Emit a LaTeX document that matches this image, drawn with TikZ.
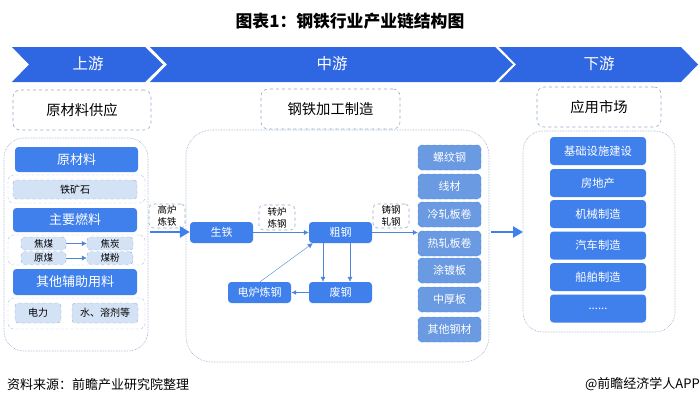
\documentclass[tikz,border=0pt]{standalone}
\usepackage{fontspec}
\usetikzlibrary{arrows.meta}
\setmainfont{Noto Sans CJK SC}
\definecolor{bannerblue}{HTML}{2F66E2}
\definecolor{boxblue}{HTML}{3F80EC}
\definecolor{prodblue}{HTML}{6A9AE2}
\definecolor{lightblue}{HTML}{D4E2F6}
\definecolor{dashblue}{HTML}{8FA8C8}
\definecolor{arrowblue}{HTML}{4F85D8}

\begin{document}
\begin{tikzpicture}[
    x=1pt, y=-1pt,
    node distance=2mm,
    banner/.style={fill=bannerblue, draw=none},
    stagelabel/.style={text=white, font=\fontsize{15.5}{15.5}\selectfont},
    headtag/.style={rectangle, rounded corners=2.5mm, dashed, draw=dashblue, semithick, fill=white, font=\fontsize{14.3}{14.3}\selectfont, inner sep=0pt},
    panel/.style={rectangle, densely dotted, draw=dashblue, semithick, inner sep=0pt},
    group/.style={rectangle, rounded corners=2mm, densely dashed, draw=dashblue!70, inner sep=0pt},
    bluebox/.style={rectangle, rounded corners=1.2mm, fill=boxblue, text=white, inner sep=0pt},
    lightbox/.style={rectangle, rounded corners=1.2mm, dashed, draw=dashblue, fill=lightblue, font=\fontsize{10}{10}\selectfont, inner sep=0pt},
    prodbox/.style={rectangle, rounded corners=1.2mm, dashed, draw=boxblue, fill=prodblue, text=white, font=\fontsize{11}{11}\selectfont, inner sep=0pt},
    steptag/.style={rectangle, rounded corners=1.5mm, dashed, draw=dashblue, semithick, fill=white, align=center, font=\fontsize{9.5}{12}\selectfont, inner sep=0pt},
    thinarrow/.style={draw=arrowblue, -{Latex[length=5pt,width=5pt]}},
    fatarrow/.style={draw=boxblue, line width=2.4pt, -{Triangle[length=10pt,width=11pt]}}
    ]
    \useasboundingbox (0,0) rectangle (700,405);

    \node (title) at (350,21) {\fontsize{16.8}{16.8}\selectfont\bfseries 图表1：钢铁行业产业链结构图};

    % banner
    \fill[banner] (12,47) -- (145,47) -- (163,64.5) -- (145,82) -- (12,82) -- (29,64.5) -- cycle;
    \fill[banner] (150,47) -- (495,47) -- (513,64.5) -- (495,82) -- (150,82) -- (167,64.5) -- cycle;
    \fill[banner] (499,47) -- (681,47) -- (698,64.5) -- (681,82) -- (499,82) -- (516,64.5) -- cycle;
    \node (up) [stagelabel] at (88,64) {上游};
    \node (mid) [stagelabel] at (332,64) {中游};
    \node (down) [stagelabel] at (599,64) {下游};

    \node (uptag) [headtag, minimum width=138pt, minimum height=40pt] at (82,110) {原材料供应};
    \node (midtag) [headtag, minimum width=139pt, minimum height=40pt] at (330.5,109) {钢铁加工制造};
    \node (downtag) [headtag, minimum width=124pt, minimum height=40pt] at (599,107) {应用市场};

    % panels
    \node (uppanel) [panel, rounded corners=7mm, minimum width=144pt, minimum height=213pt] at (76,244.5) {};
    \node (midpanel) [panel, rounded corners=9mm, minimum width=303pt, minimum height=232pt] at (337.5,246) {};
    \node (downpanel) [panel, rounded corners=7mm, minimum width=152pt, minimum height=201pt] at (599,231.5) {};

    % upstream
    \node (rawmat) [bluebox, minimum width=123pt, minimum height=25pt, font=\fontsize{13}{13}\selectfont] at (76.5,159.5) {原材料};
    \node (oregroup) [group, minimum width=137pt, minimum height=28pt] at (76.5,189) {};
    \node (ore) [lightbox, minimum width=124pt, minimum height=19pt] at (75,189.5) {铁矿石};
    \node (fuel) [bluebox, minimum width=124pt, minimum height=24pt, font=\fontsize{13}{13}\selectfont] at (75,220) {主要燃料};
    \node (coalgroup) [group, minimum width=137pt, minimum height=30pt] at (76.5,250) {};
    \node (cokecoal) [lightbox, minimum width=45pt, minimum height=13pt, font=\fontsize{9.5}{9.5}\selectfont] at (43.5,243.5) {焦煤};
    \node (rawcoal) [lightbox, minimum width=45pt, minimum height=12.5pt, font=\fontsize{9.5}{9.5}\selectfont] at (43.5,258) {原煤};
    \node (coke) [lightbox, minimum width=46pt, minimum height=13pt, font=\fontsize{9.5}{9.5}\selectfont] at (110,243.5) {焦炭};
    \node (powder) [lightbox, minimum width=46pt, minimum height=12.5pt, font=\fontsize{9.5}{9.5}\selectfont] at (110,258) {煤粉};
    \draw[thinarrow] (cokecoal) -- (coke);
    \draw[thinarrow] (rawcoal) -- (powder);
    \node (aux) [bluebox, minimum width=124pt, minimum height=26pt, font=\fontsize{13}{13}\selectfont] at (75,282) {其他辅助用料};
    \node (auxgroup) [group, minimum width=137pt, minimum height=31pt] at (76.5,313.5) {};
    \node (power) [lightbox, minimum width=46pt, minimum height=20pt] at (38,313) {电力};
    \node (water) [lightbox, minimum width=66pt, minimum height=20pt] at (105,313) {水、溶剂等};

    % midstream
    \node (pigiron) [bluebox, minimum width=63pt, minimum height=21pt, font=\fontsize{11}{11}\selectfont] at (221.5,232.5) {生铁};
    \node (crude) [bluebox, minimum width=63pt, minimum height=21pt, font=\fontsize{11}{11}\selectfont] at (340.5,232.5) {粗钢};
    \node (scrap) [bluebox, minimum width=63pt, minimum height=21pt, font=\fontsize{11}{11}\selectfont] at (340.5,292.5) {废钢};
    \node (eaf) [bluebox, minimum width=63pt, minimum height=21pt, font=\fontsize{11}{11}\selectfont] at (259.5,292.5) {电炉炼钢};

    \node (rebar) [prodbox, minimum width=63pt, minimum height=25pt] at (449.5,157.5) {螺纹钢};
    \node (wire) [prodbox, minimum width=63pt, minimum height=25pt] at (449.5,186.5) {线材};
    \node (cold) [prodbox, minimum width=63pt, minimum height=25pt] at (449.5,214.5) {冷轧板卷};
    \node (hot) [prodbox, minimum width=63pt, minimum height=25pt] at (449.5,243.5) {热轧板卷};
    \node (coated) [prodbox, minimum width=63pt, minimum height=25pt] at (449.5,270.5) {涂镀板};
    \node (plate) [prodbox, minimum width=63pt, minimum height=25pt] at (449.5,299.5) {中厚板};
    \node (other) [prodbox, minimum width=63pt, minimum height=25pt] at (449.5,329.5) {其他钢材};

    \draw[thinarrow] (pigiron) -- (crude);
    \draw[thinarrow] (crude.east) -- (crude.east -| hot.west);
    \draw[thinarrow] ([xshift=-17.5pt]crude.south) -- ([xshift=-17.5pt]scrap.north);
    \draw[thinarrow] ([xshift=9.5pt]crude.south) -- ([xshift=9.5pt]scrap.north);
    \draw[thinarrow, line width=1pt] (scrap) -- (eaf);
    \draw[thinarrow] ([xshift=0.5pt]eaf.north) -- ([xshift=4pt]crude.south west);

    \node (blast) [steptag, minimum width=36pt, minimum height=24pt] at (167,216) {高炉\\炼铁};
    \node (converter) [steptag, minimum width=36pt, minimum height=25pt] at (277,217.5) {转炉\\炼钢};
    \node (casting) [steptag, minimum width=36pt, minimum height=24pt] at (391,216) {铸钢\\轧钢};

    % big arrows
    \coordinate (upout) at (150,232);
    \coordinate (midout) at (491,232);
    \coordinate (downin) at (523,232);
    \draw[fatarrow] (upout) -- (pigiron.west |- upout);
    \draw[fatarrow] (midout) -- (downin);

    % downstream
    \node (infra) [bluebox, minimum width=96pt, minimum height=28pt, font=\fontsize{11.3}{11.3}\selectfont] at (598,151) {基础设施建设};
    \node (estate) [bluebox, minimum width=96pt, minimum height=28pt, font=\fontsize{11.3}{11.3}\selectfont] at (598,183) {房地产};
    \node (machine) [bluebox, minimum width=96pt, minimum height=28pt, font=\fontsize{11.3}{11.3}\selectfont] at (598,214) {机械制造};
    \node (auto) [bluebox, minimum width=96pt, minimum height=28pt, font=\fontsize{11.3}{11.3}\selectfont] at (598,245.5) {汽车制造};
    \node (ship) [bluebox, minimum width=96pt, minimum height=28pt, font=\fontsize{11.3}{11.3}\selectfont] at (598,277) {船舶制造};
    \node (more) [bluebox, minimum width=96pt, minimum height=28pt, font=\fontsize{11.3}{11.3}\selectfont] at (598,308.5) {......};

    \node (source) [anchor=west, inner sep=0pt, font=\fontsize{13}{13}\selectfont] at (7,384.5) {资料来源：前瞻产业研究院整理};
    \node (brand) [anchor=east, inner sep=0pt, font=\fontsize{13}{13}\selectfont] at (700,384.5) {@前瞻经济学人APP};
\end{tikzpicture}
\end{document}
